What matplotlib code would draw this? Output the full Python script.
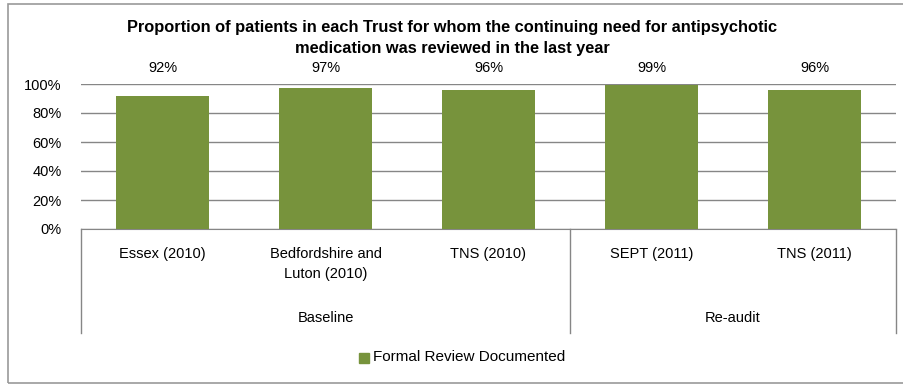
import matplotlib
matplotlib.use("Agg")
import matplotlib.pyplot as plt
from matplotlib.patches import Rectangle
from matplotlib import font_manager

categories = ["Essex (2010)", "Bedfordshire and\nLuton (2010)", "TNS (2010)", "SEPT (2011)", "TNS (2011)"]
groups = ["Baseline", "Re-audit"]
group_sizes = [3, 2]
values = [92, 97, 96, 99, 96]
series_name = "Formal Review Documented"
title = "Proportion of patients in each Trust for whom the continuing need for antipsychotic\nmedication was reviewed in the last year"

names = {f.name for f in font_manager.fontManager.ttflist}
FONT = "Liberation Sans Narrow" if "Liberation Sans Narrow" in names else "Liberation Sans"
plt.rcParams["font.family"] = [FONT, "DejaVu Sans"]

BAR = "#77933C"
GRID = "#868686"

fig = plt.figure(figsize=(9.04, 3.85), dpi=100)
# outer chart border (right edge runs off the image)
fig.patches.append(Rectangle((7.5 / 904, 2 / 385), 920 / 904, 379 / 385, transform=fig.transFigure,
                             fill=False, edgecolor="#999999", lw=1.2))
ax = fig.add_axes([81 / 904, 1 - 229 / 385, 815 / 904, 145 / 385])

x = list(range(len(values)))
ax.bar(x, values, width=0.57, color=BAR, zorder=3)
ax.set_xlim(-0.5, len(values) - 0.5)
ax.set_ylim(0, 100)
ax.set_yticks(range(0, 101, 20))
ax.set_yticklabels(["{}%".format(v) for v in range(0, 101, 20)], fontsize=10.5)
ax.tick_params(axis="y", length=0, pad=14)
ax.tick_params(axis="x", length=0, labelbottom=False)
ax.yaxis.grid(True, color=GRID, lw=1, zorder=0)
for s in ["top", "right", "left"]:
    ax.spines[s].set_visible(False)
ax.spines["bottom"].set_color(GRID)

for xi, v in zip(x, values):
    ax.text(xi, 1.11, "{}%".format(v), transform=ax.get_xaxis_transform(), ha="center", va="center",
            fontsize=10.5)

# category and group labels
tr = ax.get_xaxis_transform()
for xi, c in zip(x, categories):
    ax.text(xi, -0.125, c, transform=tr, ha="center", va="top", fontsize=10.5, linespacing=1.5)
start = -0.5
ax.plot([start, start], [0, -0.717], transform=tr, color=GRID, lw=1, clip_on=False)
for g, n in zip(groups, group_sizes):
    end = start + n
    ax.plot([end, end], [0, -0.717], transform=tr, color=GRID, lw=1, clip_on=False)
    ax.text((start + end) / 2, -0.614, g, transform=tr, ha="center", va="center", fontsize=10.5)
    start = end

fig.text(0.5, 1 - 38 / 385, title, ha="center", va="center", fontsize=11.8, fontweight="bold",
         linespacing=1.45)

# legend
fig.patches.append(Rectangle((359 / 904, 1 - 363 / 385), 10 / 904, 10 / 385, transform=fig.transFigure,
                             color=BAR))
fig.text(373 / 904, 1 - 357 / 385, series_name, ha="left", va="center", fontsize=11)

fig.savefig("out.png", dpi=100)
